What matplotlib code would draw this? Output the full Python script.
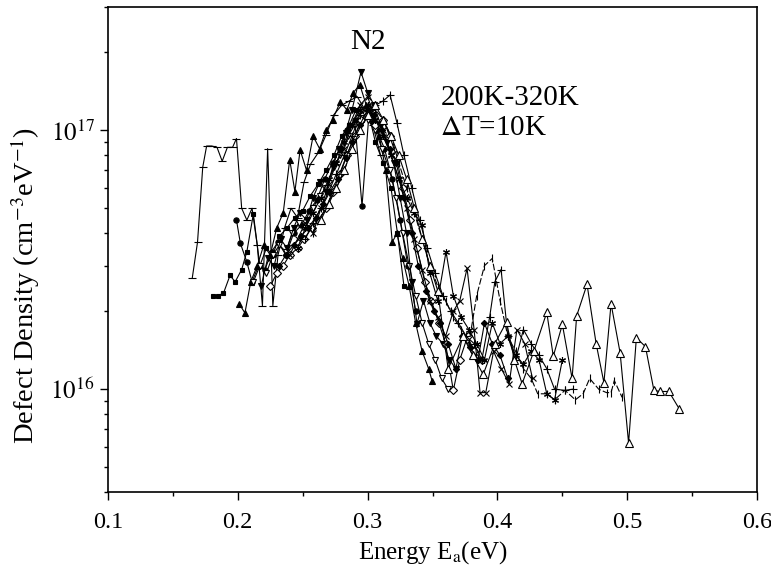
import matplotlib
matplotlib.use("Agg")
import matplotlib.pyplot as plt
from matplotlib.ticker import LogLocator, NullFormatter, FixedLocator, FixedFormatter

plt.rcParams['font.family'] = ['Liberation Serif', 'DejaVu Serif']
plt.rcParams['mathtext.fontset'] = 'stix'

SCALE = 1e16  # values below are in units of 1e16 cm^-3 eV^-1

X_TICKS = [0.1, 0.2, 0.3, 0.4, 0.5, 0.6]
X_TICK_LABELS = ['0.1', '0.2', '0.3', '0.4', '0.5', '0.6']
X_MINOR = [0.15, 0.25, 0.35, 0.45, 0.55]
Y_TICKS = [1e16, 1e17]
Y_TICK_LABELS = [r'$10^{16}$', r'$10^{17}$']

# 200K
E1 = [0.165,0.169,0.173,0.176,0.180,0.184,0.188,0.192,0.196,0.199,0.203,0.207,0.211,0.215,0.219,0.223,0.227,0.231,0.236,0.241,0.246,0.251,0.256,0.262,0.268,0.274,0.280,0.286,0.292,0.298,0.304,0.310]
N1 = [2.7,3.7,7.2,8.7,8.7,8.6,7.6,8.6,8.6,9.3,5.0,4.5,5.0,3.6,2.1,8.5,2.1,3.3,4.2,5.0,4.6,6.3,7.4,8.2,9.6,11.5,12.5,13.0,13.5,12.0,10.5,8.0]
# 210K
E2 = [0.181,0.185,0.189,0.194,0.198,0.203,0.207,0.212,0.217,0.222,0.227,0.232,0.238,0.244,0.250,0.256,0.262,0.268,0.274,0.280,0.286,0.291,0.296,0.301,0.306,0.312,0.318,0.323,0.328]
N2 = [2.3,2.3,2.35,2.75,2.6,2.9,3.4,4.75,3.0,3.5,3.3,3.9,4.2,4.6,4.9,5.6,6.2,7.0,8.0,9.5,10.5,12.0,11.0,11.5,9.0,7.5,6.0,4.0,2.5]
# 220K
E3 = [0.199,0.202,0.207,0.211,0.216,0.221,0.226,0.231,0.237,0.243,0.249,0.255,0.261,0.267,0.273,0.279,0.284,0.290,0.2957,0.301,0.307,0.313,0.319,0.325,0.331,0.337]
N3 = [4.5,3.66,3.1,2.6,3.0,2.9,3.4,3.7,3.3,4.0,4.3,4.9,5.4,6.5,7.5,8.5,10.0,11.0,5.1,11.5,10.0,8.5,6.5,4.5,3.0,2.0]
# 230K
E4 = [0.201,0.2055,0.210,0.215,0.220,0.225,0.230,0.235,0.240,0.244,0.248,0.253,0.258,0.263,0.268,0.273,0.279,0.284,0.289,0.294,0.299,0.304,0.309,0.314,0.319,0.3226,0.327,0.332,0.337,0.342,0.347,0.3496]
N4 = [2.14,1.97,2.6,3.0,3.6,3.3,4.2,4.8,7.7,5.8,8.4,7.0,9.5,8.5,10.0,11.0,12.9,12.0,14.0,15.0,12.5,11.0,9.5,7.0,3.7,4.0,3.2,2.5,1.8,1.4,1.2,1.08]
# 240K
E5 = [0.212,0.217,0.222,0.227,0.232,0.237,0.242,0.247,0.252,0.258,0.263,0.268,0.274,0.279,0.285,0.290,0.295,0.300,0.306,0.311,0.317,0.322,0.327,0.332,0.337,0.342,0.347,0.352,0.357,0.362]
N5 = [2.6,3.0,2.8,3.3,3.6,3.4,4.0,4.4,4.2,5.0,5.6,6.0,7.2,8.0,9.5,10.5,12.0,11.0,10.0,8.5,7.0,5.5,4.0,3.0,2.3,1.8,1.5,1.3,1.1,1.0]
# 250K
E6 = [0.218,0.223,0.228,0.233,0.238,0.243,0.248,0.253,0.258,0.263,0.268,0.273,0.278,0.283,0.288,0.2949,0.300,0.305,0.310,0.315,0.320,0.325,0.330,0.334,0.338,0.343,0.348,0.353,0.358,0.363,0.368]
N6 = [2.5,3.2,3.0,3.8,3.5,4.2,4.8,4.5,5.5,6.3,5.8,7.2,8.5,9.8,12.0,16.8,14.0,12.5,10.5,9.0,7.5,5.5,4.0,2.6,1.79,2.2,1.8,1.6,1.5,1.3,1.2]
# 260K
E7 = [0.225,0.230,0.235,0.240,0.246,0.251,0.257,0.262,0.268,0.273,0.279,0.284,0.290,0.295,0.301,0.306,0.312,0.317,0.322,0.327,0.333,0.338,0.344,0.349,0.355,0.360,0.366,0.371,0.377,0.382,0.388]
N7 = [2.5,2.8,3.0,3.3,3.5,3.8,4.2,4.5,5.0,5.8,6.8,8.0,9.5,11.0,12.0,10.5,11.0,9.5,8.0,6.0,4.5,3.5,2.6,2.2,1.8,1.5,0.99,1.3,1.6,1.4,1.3]
# 270K
E8 = [0.232,0.237,0.243,0.249,0.254,0.260,0.266,0.271,0.277,0.283,0.288,0.294,0.300,0.305,0.311,0.317,0.322,0.328,0.334,0.339,0.345,0.351,0.356,0.362,0.368,0.373,0.379,0.385,0.390,0.396,0.402,0.408]
N8 = [3.0,3.3,3.6,3.9,4.2,4.6,5.2,5.8,6.5,7.8,9.0,10.5,12.0,11.5,10.0,8.5,7.5,5.5,4.0,3.0,2.4,2.0,1.8,1.5,1.2,1.6,1.45,1.3,1.8,1.5,1.35,1.1]
# 280K
E9 = [0.240,0.246,0.252,0.258,0.264,0.270,0.276,0.282,0.288,0.294,0.300,0.306,0.312,0.318,0.324,0.330,0.336,0.342,0.348,0.354,0.360,0.366,0.371,0.3766,0.382,0.3866,0.391,0.397,0.403,0.409,0.415,0.421,0.427]
N9 = [3.3,3.8,4.4,4.0,5.0,6.2,7.5,8.5,10.5,12.5,13.5,11.0,10.0,8.0,6.5,5.0,3.8,2.9,2.2,1.9,1.6,2.0,2.2,2.93,1.7,0.97,0.97,1.4,1.2,1.05,1.7,1.5,1.1]
# 290K
E10 = [0.246,0.252,0.258,0.264,0.270,0.276,0.282,0.288,0.294,0.300,0.306,0.312,0.318,0.324,0.330,0.336,0.342,0.348,0.354,0.3604,0.366,0.372,0.378,0.384,0.390,0.396,0.402,0.408,0.414,0.420,0.426,0.432,0.438,0.444,0.450]
N10 = [3.5,4.2,4.8,5.5,6.5,7.5,9.0,10.5,12.0,12.5,11.0,9.5,8.0,6.5,5.5,4.8,4.3,2.8,2.2,3.4,2.3,1.9,1.7,1.5,1.3,1.8,1.5,1.6,1.35,1.25,1.4,1.3,0.96,0.91,1.3]
# 300K
E11 = [0.252,0.258,0.264,0.270,0.276,0.282,0.288,0.294,0.300,0.306,0.312,0.3173,0.3226,0.328,0.334,0.340,0.346,0.352,0.358,0.364,0.370,0.376,0.382,0.388,0.394,0.398,0.4028,0.408,0.414,0.420,0.426,0.432,0.438,0.444,0.452,0.458]
N11 = [3.8,4.4,5.0,5.8,6.8,8.0,9.5,11.5,12.0,12.5,13.0,13.7,10.7,8.0,6.0,4.5,3.5,2.8,2.3,2.0,1.8,1.6,1.5,1.3,1.9,2.6,2.9,1.6,1.3,1.7,1.5,1.35,1.2,1.0,0.99,1.0]
# 310K
E12 = [0.258,0.264,0.270,0.276,0.282,0.288,0.294,0.300,0.306,0.312,0.318,0.324,0.330,0.336,0.342,0.348,0.354,0.360,0.366,0.372,0.378,0.384,0.390,0.396,0.402,0.408,0.414,0.420,0.426,0.431,0.438,0.444,0.452,0.460,0.466,0.471,0.478,0.484,0.4875,0.490,0.496]
N12 = [4.0,4.6,5.3,6.0,7.0,8.5,10.0,11.5,12.0,11.0,9.5,7.5,6.0,4.8,3.8,3.0,2.5,2.2,1.9,1.7,1.5,2.3,3.0,3.2,2.2,1.6,1.4,1.2,1.1,0.96,0.96,0.91,0.99,0.91,0.96,1.1,1.0,0.97,0.97,1.08,0.93]
# 320K
E13 = [0.264,0.270,0.276,0.282,0.288,0.294,0.300,0.306,0.312,0.318,0.324,0.330,0.336,0.342,0.348,0.354,0.362,0.3735,0.381,0.389,0.398,0.407,0.413,0.419,0.428,0.438,0.443,0.450,0.4575,0.461,0.469,0.476,0.482,0.4875,0.4945,0.501,0.507,0.514,0.5205,0.525,0.532,0.540]
N13 = [4.5,5.2,6.0,7.0,8.5,10.0,11.5,12.5,11.0,9.5,8.0,6.5,5.0,3.8,3.0,2.4,1.2,1.6,1.35,1.14,1.5,1.82,1.3,1.05,1.4,1.98,1.34,1.78,1.1,1.92,2.54,1.5,1.06,2.14,1.38,0.62,1.58,1.46,0.99,0.98,0.98,0.84]

series = [
    (E1, N1, dict(marker='_', ms=6, ls='-')),
    (E2, N2, dict(marker='s', ms=3.2, mfc='black', ls='-')),
    (E3, N3, dict(marker='o', ms=3.8, mfc='black', ls='-')),
    (E4, N4, dict(marker='^', ms=4.5, mfc='black', ls='-')),
    (E5, N5, dict(marker='v', ms=4.5, mfc='white', ls='-')),
    (E6, N6, dict(marker='v', ms=4.5, mfc='black', ls='-')),
    (E7, N7, dict(marker='D', ms=3.8, mfc='white', ls='-')),
    (E8, N8, dict(marker='D', ms=3.2, mfc='black', ls='-')),
    (E9, N9, dict(marker='x', ms=5, ls='-')),
    (E10, N10, dict(marker=(6, 2, 0), ms=5, ls='-')),
    (E11, N11, dict(marker='+', ms=6, ls='-')),
    (E12, N12, dict(marker='|', ms=6, ls=(0, (6, 2)))),
    (E13, N13, dict(marker='^', ms=6, mfc='white', ls='-')),
]

fig = plt.figure(figsize=(7.71, 5.71), dpi=100)
ax = fig.add_axes([0.140, 0.138, 0.842, 0.850])

for E, N, st in series:
    ax.plot(E, [v * SCALE for v in N], color='black', lw=0.8, mec='black', mew=0.8, **st)

ax.set_yscale('log')
ax.set_xlim(0.1, 0.6)
ax.set_ylim(4e15, 3e17)
ax.xaxis.set_major_locator(FixedLocator(X_TICKS))
ax.xaxis.set_major_formatter(FixedFormatter(X_TICK_LABELS))
ax.xaxis.set_minor_locator(FixedLocator(X_MINOR))
ax.yaxis.set_major_locator(FixedLocator(Y_TICKS))
ax.yaxis.set_major_formatter(FixedFormatter(Y_TICK_LABELS))
ax.yaxis.set_minor_locator(LogLocator(base=10, subs=range(2, 10)))
ax.yaxis.set_minor_formatter(NullFormatter())
ax.tick_params(which='major', direction='out', length=6, width=1, labelsize=17.5)
ax.tick_params(axis='y', labelsize=18)
ax.tick_params(which='minor', direction='out', length=3, width=1)
ax.tick_params(axis='x', pad=8)
for s in ax.spines.values():
    s.set_linewidth(1.2)

ax.set_xlabel(r'Energy E$_{\rm a}$(eV)', fontsize=18, labelpad=5)
ax.set_ylabel(r'Defect Density (cm$^{-3}$eV$^{-1}$)', fontsize=20.5, labelpad=8)
ax.yaxis.set_label_coords(-0.102, 0.425)

ax.text(0.3, 2.2e17, 'N2', fontsize=21, ha='center', va='center')
ax.text(0.356, 1.33e17, '200K-320K', fontsize=21, ha='left', va='center')
ax.text(0.356, 1.02e17, r'$\Delta$T=10K', fontsize=21, ha='left', va='center')

fig.savefig('out.png', dpi=100)
